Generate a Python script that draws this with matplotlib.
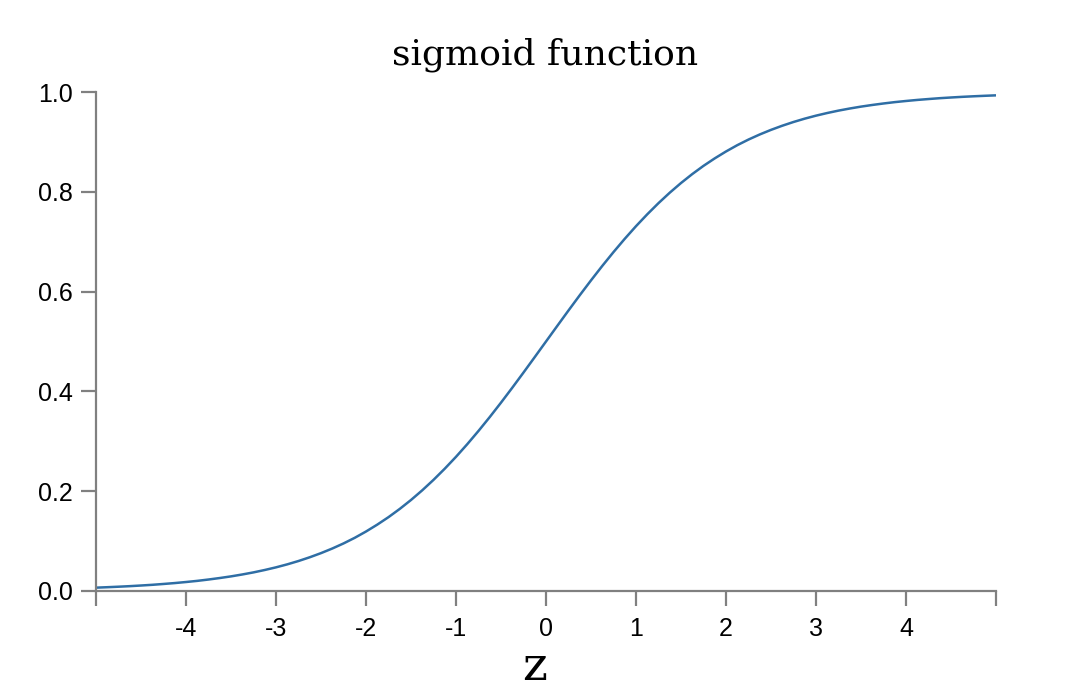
import matplotlib
matplotlib.use('Agg')
import matplotlib.pyplot as plt

# values, step 0.125 in z
z = [-5.0, -4.875, -4.75, -4.625, -4.5, -4.375, -4.25, -4.125, -4.0, -3.875,
     -3.75, -3.625, -3.5, -3.375, -3.25, -3.125, -3.0, -2.875, -2.75, -2.625,
     -2.5, -2.375, -2.25, -2.125, -2.0, -1.875, -1.75, -1.625, -1.5, -1.375,
     -1.25, -1.125, -1.0, -0.875, -0.75, -0.625, -0.5, -0.375, -0.25, -0.125,
     0.0, 0.125, 0.25, 0.375, 0.5, 0.625, 0.75, 0.875, 1.0, 1.125,
     1.25, 1.375, 1.5, 1.625, 1.75, 1.875, 2.0, 2.125, 2.25, 2.375,
     2.5, 2.625, 2.75, 2.875, 3.0, 3.125, 3.25, 3.375, 3.5, 3.625,
     3.75, 3.875, 4.0, 4.125, 4.25, 4.375, 4.5, 4.625, 4.75, 4.875, 5.0]
sig = [0.0067, 0.0076, 0.0086, 0.0097, 0.0110, 0.0124, 0.0141, 0.0159, 0.0180, 0.0203,
       0.0230, 0.0260, 0.0293, 0.0331, 0.0373, 0.0421, 0.0474, 0.0534, 0.0601, 0.0676,
       0.0759, 0.0851, 0.0953, 0.1066, 0.1192, 0.1330, 0.1480, 0.1645, 0.1824, 0.2018,
       0.2227, 0.2451, 0.2689, 0.2942, 0.3208, 0.3486, 0.3775, 0.4073, 0.4378, 0.4688,
       0.5000, 0.5312, 0.5622, 0.5927, 0.6225, 0.6514, 0.6792, 0.7058, 0.7311, 0.7549,
       0.7773, 0.7982, 0.8176, 0.8355, 0.8520, 0.8670, 0.8808, 0.8934, 0.9047, 0.9149,
       0.9241, 0.9324, 0.9399, 0.9466, 0.9526, 0.9579, 0.9627, 0.9669, 0.9707, 0.9740,
       0.9770, 0.9797, 0.9820, 0.9841, 0.9859, 0.9876, 0.9890, 0.9903, 0.9914, 0.9924, 0.9933]

x_ticks = [-4, -3, -2, -1, 0, 1, 2, 3, 4]
y_ticks = [0.0, 0.2, 0.4, 0.6, 0.8, 1.0]

W, H = 1066, 698
fig = plt.figure(figsize=(W / 100, H / 100), dpi=100)
ax = fig.add_axes([96 / W, (H - 591) / H, 900 / W, 499 / H])

ax.plot(z, sig, color='#2f6ea5', linewidth=1.8, solid_capstyle='butt')
ax.set_xlim(-5, 5)
ax.set_ylim(0, 1)

axis_col = '#808080'
for s in ['top', 'right']:
    ax.spines[s].set_visible(False)
for s in ['left', 'bottom']:
    ax.spines[s].set_color(axis_col)
    ax.spines[s].set_linewidth(1.6)

ax.set_xticks([-5] + x_ticks + [5])
ax.set_xticklabels([''] + [str(t) for t in x_ticks] + [''])
ax.set_yticks(y_ticks)
ax.set_yticklabels(['%.1f' % t for t in y_ticks])
ax.tick_params(axis='both', length=11, width=1.6, color=axis_col,
               labelsize=18, pad=6)
ax.tick_params(axis='x', pad=8)
for lab in ax.get_xticklabels() + ax.get_yticklabels():
    lab.set_fontfamily('Liberation Sans')

fig.text(545 / W, (H - 65) / H, 'sigmoid function', fontfamily='DejaVu Serif',
         fontsize=26, ha='center', va='baseline')
fig.text(535 / W, (H - 680) / H, 'z', fontfamily='DejaVu Serif',
         fontsize=34, ha='center', va='baseline')

fig.savefig('out.png', dpi=100)
